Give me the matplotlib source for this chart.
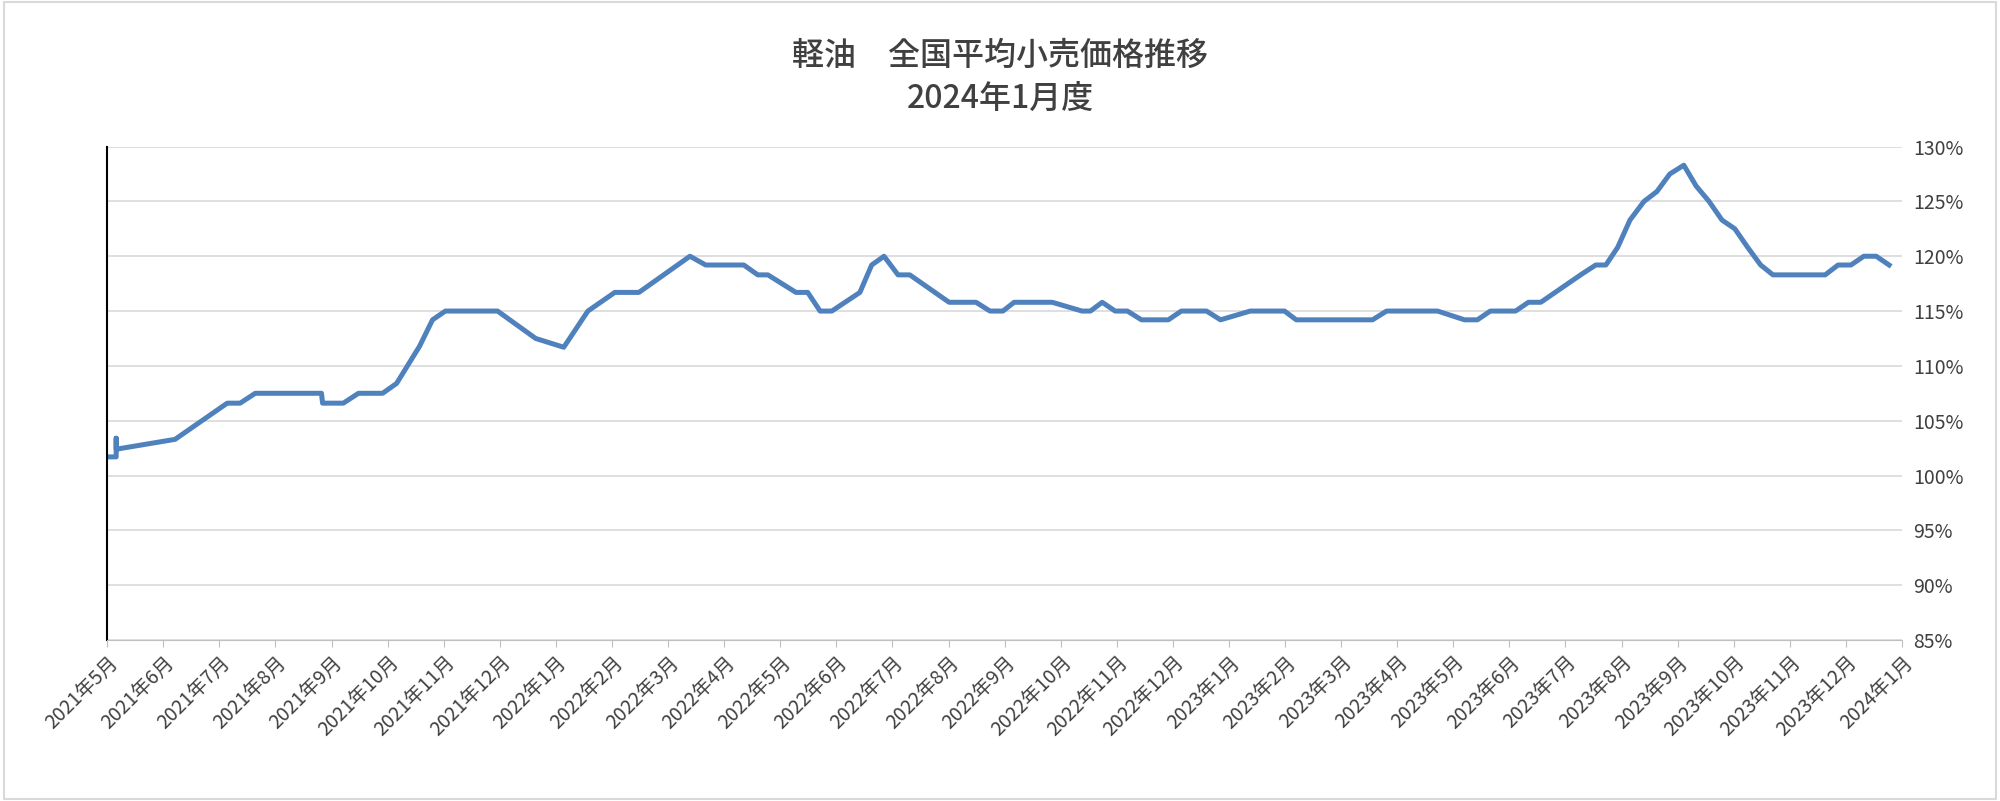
import matplotlib.pyplot as plt

plt.rcParams['font.family'] = ['Noto Sans CJK JP', 'DejaVu Sans']

# months since 2021-05-01, and price ratio (%)
months = [0, 0.16, 0.16, 0.16, 1.21, 2.14, 2.37, 2.64, 3.82, 3.84, 4.21, 4.48, 4.91, 5.16,
          5.57, 5.80, 6.03, 6.96, 7.64, 8.14, 8.57, 9.05, 9.48, 10.39, 10.67, 11.35, 11.60,
          11.78, 12.28, 12.49, 12.71, 12.92, 13.42, 13.63, 13.85, 14.10, 14.31, 15.01, 15.49,
          15.74, 15.97, 16.17, 16.85, 17.38, 17.53, 17.74, 17.97, 18.19, 18.44, 18.92, 19.15,
          19.60, 19.85, 20.38, 20.99, 21.20, 22.56, 22.81, 23.72, 24.20, 24.43, 24.66, 25.11,
          25.34, 25.56, 26.27, 26.54, 26.72, 26.93, 27.15, 27.40, 27.63, 27.86, 28.11, 28.33,
          28.56, 28.79, 29.02, 29.25, 29.48, 29.70, 30.63, 30.86, 31.09, 31.32, 31.54, 31.77]
values = [101.7, 101.7, 103.4, 102.4, 103.3, 106.6, 106.6, 107.5, 107.5, 106.6, 106.6, 107.5,
          107.5, 108.4, 111.8, 114.2, 115.0, 115.0, 112.5, 111.7, 115.0, 116.7, 116.7, 120.0,
          119.2, 119.2, 118.3, 118.3, 116.7, 116.7, 115.0, 115.0, 116.7, 119.2, 120.0, 118.3,
          118.3, 115.8, 115.8, 115.0, 115.0, 115.8, 115.8, 115.0, 115.0, 115.8, 115.0, 115.0,
          114.2, 114.2, 115.0, 115.0, 114.2, 115.0, 115.0, 114.2, 114.2, 115.0, 115.0, 114.2,
          114.2, 115.0, 115.0, 115.8, 115.8, 118.3, 119.2, 119.2, 120.8, 123.3, 125.0, 125.9,
          127.5, 128.3, 126.4, 125.0, 123.3, 122.5, 120.8, 119.2, 118.3, 118.3, 119.2, 119.2,
          120.0, 120.0, 119.2]

tick_labels = []
for i in range(33):
    y = 2021 + (4 + i) // 12
    m = (4 + i) % 12 + 1
    tick_labels.append(f'{y}年{m}月')

fig = plt.figure(figsize=(20, 8.01), dpi=100)
ax = fig.add_axes([0.0536, 0.201, 0.8974, 0.616])
ax.plot(months, values, color='#4f81bd', linewidth=3.6, solid_joinstyle='round')

ax.set_xlim(0, 32)
ax.set_ylim(85, 130)
ax.set_xticks(range(33))
ax.set_xticklabels(tick_labels, rotation=45, ha='right', rotation_mode='anchor',
                   fontsize=14, color='#404040')
ax.set_yticks(range(85, 131, 5))
ax.set_yticklabels([f'{v}%' for v in range(85, 131, 5)], fontsize=14, color='#404040')
ax.yaxis.tick_right()
ax.tick_params(axis='y', length=0, pad=8)
ax.tick_params(axis='x', length=5, color='#bfbfbf')
ax.grid(axis='y', color='#d9d9d9', linewidth=1.2)
for s in ['top', 'right']:
    ax.spines[s].set_visible(False)
ax.spines['bottom'].set_color('#bfbfbf')
ax.spines['left'].set_color('black')
ax.spines['left'].set_linewidth(1.5)

fig.suptitle('軽油　全国平均小売価格推移\n2024年1月度', y=0.95, fontsize=23, color='#404040',
             fontweight='medium', linespacing=1.45)
fig.patches.append(plt.Rectangle((0.002, 0.002), 0.996, 0.996, transform=fig.transFigure,
                                 fill=False, edgecolor='#d9d9d9', linewidth=1.5))
fig.savefig('out.png')
